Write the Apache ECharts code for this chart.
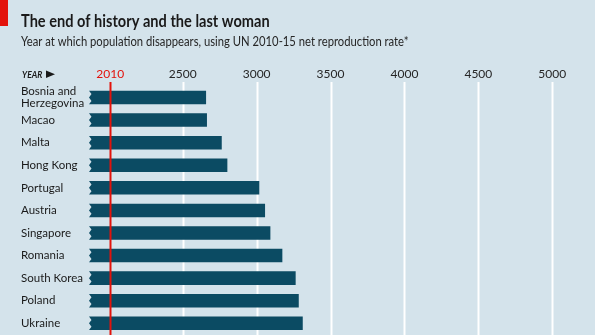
<!DOCTYPE html>
<html>
<head>
<meta charset="utf-8">
<script src="https://cdn.jsdelivr.net/npm/echarts@6/dist/echarts.min.js"></script>
<style>
  html, body { margin: 0; padding: 0; background: #d4e3eb; }
  #chart { width: 595px; height: 335px; }
</style>
</head>
<body>
<div id="chart"></div>
<script>
// Countries, top to bottom
const countries = ['Bosnia and\nHerzegovina', 'Macao', 'Malta', 'Hong Kong', 'Portugal', 'Austria',
  'Singapore', 'Romania', 'South Korea', 'Poland', 'Ukraine'];
// Year at which the population disappears
const lastYear = [2658, 2664, 2764, 2802, 3018, 3057, 3093, 3174, 3264, 3285, 3312];
// Labelled year ticks (2010 is the reference year, drawn in red)
const yearTicks = [2010, 2500, 3000, 3500, 4000, 4500, 5000];
const baseYear = 2010;

const X_MIN = 1866, X_MAX = 5289;
const FONT = 'Lato, sans-serif';
const BAR = '#0b4b63', RED = '#e3120b', BG = '#d4e3eb';

const chart = echarts.init(document.getElementById('chart'), null, { renderer: 'canvas' });

function vLine(params, api, color) {
  const x = api.value(0);
  const top = api.coord([x, 1]);
  const bot = api.coord([x, 0]);
  return {
    type: 'line',
    shape: { x1: Math.round(top[0]) + 0.5, y1: top[1], x2: Math.round(top[0]) + 0.5, y2: bot[1] },
    style: { stroke: color, lineWidth: 2 }
  };
}

chart.setOption({
  backgroundColor: BG,
  animation: false,
  graphic: [
    { type: 'rect', shape: { x: 0, y: 0, width: 8, height: 26 }, style: { fill: RED } },
    // narrow-set headline and standfirst
    { type: 'text', x: 21, y: 21.5, scaleX: 0.885,
      style: { text: 'The end of history and the last woman', font: 'bold 16.5px ' + FONT,
        fill: '#1a1a1a', verticalAlign: 'middle' } },
    { type: 'text', x: 21, y: 41.5, scaleX: 0.9,
      style: { text: 'Year at which population disappears, using UN 2010-15 net reproduction rate*',
        font: '12.5px ' + FONT, fill: '#262626', verticalAlign: 'middle' } },
    { type: 'text', x: 22, y: 74.5, scaleX: 0.85,
      style: { text: 'YEAR', font: 'italic bold 10px ' + FONT, fill: '#1a1a1a', verticalAlign: 'middle' } },
    { type: 'polygon', shape: { points: [[46, 70.5], [46, 78], [55, 74.3]] }, style: { fill: '#1a1a1a' } }
  ],
  grid: [
    { left: 89, right: 0, top: 82, bottom: 0 },
    { left: 89, right: 0, top: 86.2, height: 248.4 }
  ],
  xAxis: [
    {
      gridIndex: 0, type: 'value', position: 'top', min: X_MIN, max: X_MAX,
      axisLine: { show: false }, axisTick: { show: false }, splitLine: { show: false },
      axisLabel: {
        customValues: yearTicks, margin: 2,
        fontFamily: FONT, fontSize: 12,
        formatter: v => String(v),
        color: v => (Number(v) === baseYear ? RED : '#262626')
      }
    },
    {
      gridIndex: 1, type: 'value', min: X_MIN, max: X_MAX, show: false
    }
  ],
  yAxis: [
    { gridIndex: 0, type: 'value', min: 0, max: 1, show: false },
    {
      gridIndex: 1, type: 'category', data: countries, inverse: true,
      axisLine: { show: false }, axisTick: { show: false },
      axisLabel: {
        align: 'left', margin: 68, fontFamily: FONT, fontSize: 11.5,
        lineHeight: 12.3, color: '#1a1a1a'
      }
    }
  ],
  series: [
    {
      // white gridlines behind the bars
      type: 'custom', xAxisIndex: 0, yAxisIndex: 0, z: 1, silent: true,
      data: yearTicks.filter(v => v !== baseYear).map(v => [v]),
      encode: { x: 0 },
      renderItem: (p, api) => vLine(p, api, '#ffffff')
    },
    {
      type: 'custom', xAxisIndex: 1, yAxisIndex: 1, z: 2,
      data: lastYear.map((v, i) => [v, i]),
      encode: { x: 0, y: 1 },
      renderItem: (params, api) => {
        const idx = api.value(1);
        const end = api.coord([api.value(0), idx]);
        const start = api.coord([X_MIN, idx]);
        const h = api.size([0, 1])[1] * 0.6;
        const top = end[1] - h / 2, bot = end[1] + h / 2;
        const x0 = start[0], d = 2.5;
        return {
          type: 'polygon',
          shape: {
            points: [
              [x0, top], [end[0], top], [end[0], bot], [x0, bot],
              [x0 + d, bot - h * 0.25], [x0, end[1]], [x0 + d, top + h * 0.25]
            ]
          },
          style: { fill: BAR }
        };
      }
    },
    {
      // red reference line in front of the bars
      type: 'custom', xAxisIndex: 0, yAxisIndex: 0, z: 3, silent: true,
      data: [[baseYear]],
      encode: { x: 0 },
      renderItem: (p, api) => vLine(p, api, RED)
    }
  ]
});
</script>
</body>
</html>
